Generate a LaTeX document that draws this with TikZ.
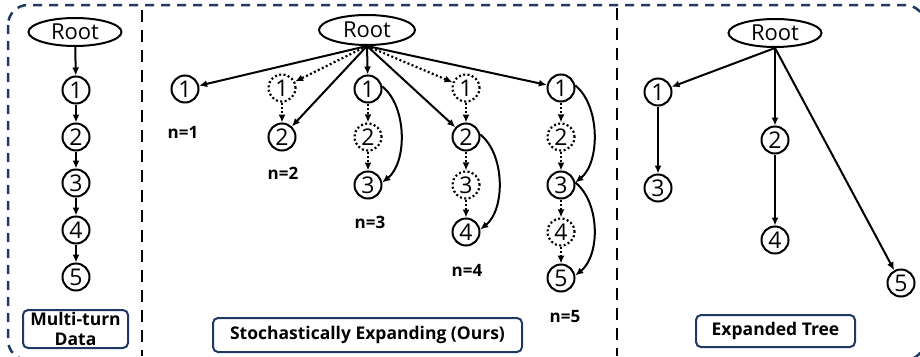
\documentclass[tikz,border=0pt]{standalone}
\usepackage{fontspec}
\setmainfont{Open Sans}
\usetikzlibrary{shapes.geometric,arrows.meta}
\definecolor{navy}{HTML}{1F3864}
\begin{document}
\begin{tikzpicture}[x=1pt,y=1pt,
  tip/.style={-{Latex[length=8pt,width=7pt]}},
  edge/.style={tip, line width=2pt},
  dotedge/.style={tip, line width=2.2pt, dash pattern=on 2pt off 2.4pt},
  rootnode/.style={ellipse, draw, line width=2pt, minimum width=93pt, minimum height=28pt,
    inner sep=0pt, font=\fontsize{22}{22}\selectfont},
  turn/.style={circle, draw, line width=2pt, minimum size=27pt, inner sep=0pt,
    font=\fontsize{23}{23}\selectfont},
  ghost/.style={turn, line width=2.2pt, dash pattern=on 2pt off 2.4pt},
  count/.style={font=\bfseries\fontsize{17}{17}\selectfont},
  caption/.style={draw=navy, line width=2pt, rounded corners=5pt, align=center, inner sep=0pt,
    font=\bfseries\fontsize{17.5}{20}\selectfont},
  panelsep/.style={line width=2.8pt, dash pattern=on 12pt off 8pt},
]
\useasboundingbox (0,0) rectangle (920,-356);
\clip (0,0) rectangle (920,-356);

% frame and panel separators
\draw[navy, line width=2.5pt, dash pattern=on 9pt off 7pt, rounded corners=20pt]
  (8,-5) rectangle (925,-360);
\draw[panelsep] (142,-10) -- (142,-356);
\draw[panelsep] (617,-8) -- (617,-356);

% ---- multi-turn data: a plain chain
\node[rootnode] (ra) at (75,-32) {Root};
\node[turn] (a1) at (76,-90) {1};
\node[turn] (a2) at (76,-137) {2};
\node[turn] (a3) at (76,-183) {3};
\node[turn] (a4) at (76,-230) {4};
\node[turn] (a5) at (76,-277) {5};
\draw[edge] (ra) -- (a1);
\draw[edge] (a1) -- (a2);
\draw[edge] (a2) -- (a3);
\draw[edge] (a3) -- (a4);
\draw[edge] (a4) -- (a5);
\node[caption, minimum width=105pt, minimum height=38pt] (capa) at (75.5,-329) {Multi-turn\\Data};

% ---- stochastic expansion, one column per n
\node[rootnode, minimum width=96pt, minimum height=30pt] (rb) at (367,-30) {Root};

\node[turn] (b11) at (185,-89) {1};
\node[count] (n1) at (183,-132) {n=1};

\node[ghost] (b21) at (282,-88) {1};
\node[turn] (b22) at (282,-137) {2};
\node[count] (n2) at (283,-173) {n=2};

\node[turn] (b31) at (368,-89) {1};
\node[ghost] (b32) at (368,-137) {2};
\node[turn] (b33) at (368,-185) {3};
\node[count] (n3) at (370,-222) {n=3};

\node[ghost] (b41) at (466,-88) {1};
\node[turn] (b42) at (466,-137) {2};
\node[ghost] (b43) at (466,-185) {3};
\node[turn] (b44) at (466,-232) {4};
\node[count] (n4) at (467,-270) {n=4};

\node[turn] (b51) at (561,-88) {1};
\node[ghost] (b52) at (561,-137) {2};
\node[turn] (b53) at (561,-185) {3};
\node[ghost] (b54) at (561,-232) {4};
\node[turn] (b55) at (561,-278) {5};
\node[count] (n5) at (565,-317) {n=5};

\draw[edge] (rb.south) -- (b11);
\draw[dotedge] (rb.south) -- (b21);
\draw[edge] (rb.south) -- (b22);
\draw[dotedge] (b21) -- (b22);

\draw[edge] (rb.south) -- (b31);
\draw[dotedge] (b31) -- (b32);
\draw[dotedge] (b32) -- (b33);
\draw[edge] (b31.10) .. controls +(25,-20) and +(25,20) .. (b33.10);

\draw[dotedge] (rb.south) -- (b41);
\draw[edge] (rb.south) -- (b42);
\draw[dotedge] (b41) -- (b42);
\draw[dotedge] (b42) -- (b43);
\draw[dotedge] (b43) -- (b44);
\draw[edge] (b42.10) .. controls +(25,-20) and +(25,20) .. (b44.10);

\draw[edge] (rb.south) -- (b51);
\draw[dotedge] (b51) -- (b52);
\draw[dotedge] (b52) -- (b53);
\draw[dotedge] (b53) -- (b54);
\draw[dotedge] (b54) -- (b55);
\draw[edge] (b51.10) .. controls +(25,-20) and +(25,20) .. (b53.10);
\draw[edge] (b53.10) .. controls +(25,-20) and +(25,20) .. (b55.10);

\node[caption, minimum width=309pt, minimum height=34pt] (capb) at (367.5,-335) {Stochastically Expanding (Ours)};

% ---- resulting tree
\node[rootnode] (rc) at (775,-33) {Root};
\node[turn] (c1) at (658,-92) {1};
\node[turn] (c3) at (658,-188) {3};
\node[turn] (c2) at (775,-140) {2};
\node[turn] (c4) at (775,-240) {4};
\node[turn] (c5) at (901,-283) {5};
\draw[edge] (rc.south) -- (c1);
\draw[edge] (rc.south) -- (c2);
\draw[edge] (rc.south) -- (c5);
\draw[edge] (c1) -- (c3);
\draw[edge] (c2) -- (c4);
\node[caption, minimum width=159pt, minimum height=32pt] (capc) at (775.5,-331) {Expanded Tree};
\end{tikzpicture}
\end{document}
